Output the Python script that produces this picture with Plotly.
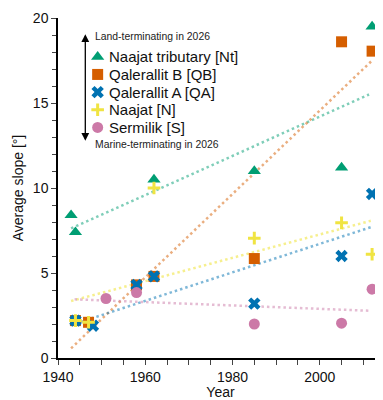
import plotly.graph_objects as go

# ---- data ----
series_names = ["Naajat tributary [Nt]", "Qalerallit B [QB]", "Qalerallit A [QA]",
                "Naajat [N]", "Sermilik [S]"]

nt_year = [1943, 1944, 1962, 1985, 2005, 2012]
nt_slope = [8.4, 7.4, 10.5, 11.0, 11.2, 19.5]

qb_year = [1944, 1947, 1958, 1962, 1985, 2005, 2012]
qb_slope = [2.2, 2.1, 4.3, 4.8, 5.85, 18.6, 18.05]

qa_year = [1944, 1948, 1958, 1962, 1985, 2005, 2012]
qa_slope = [2.2, 1.9, 4.3, 4.8, 3.2, 6.0, 9.65]

n_year = [1944, 1947, 1962, 1985, 2005, 2012]
n_slope = [2.2, 2.1, 10.0, 7.05, 7.95, 6.1]

s_year = [1951, 1958, 1985, 2005, 2012]
s_slope = [3.5, 3.85, 2.0, 2.05, 4.05]

# linear trend lines (start/end year and value)
nt_trend_year = [1943, 2011.3]
nt_trend_val = [7.62, 15.5]
qb_trend_year = [1943, 2011.8]
qb_trend_val = [0.57, 17.45]
qa_trend_year = [1944, 2012]
qa_trend_val = [2.02, 7.72]
n_trend_year = [1943, 2011.7]
n_trend_val = [3.35, 8.07]
s_trend_year = [1943.8, 2011.3]
s_trend_val = [3.45, 2.78]

x_ticks = [1940, 1960, 1980, 2000]
y_ticks = [0, 5, 10, 15, 20]

# ---- styles ----
colors = ["#009E73", "#D55E00", "#0072B2", "#F0E442", "#CC79A7"]
line_colors = ["rgba(0,158,115,0.5)", "rgba(213,94,0,0.5)", "rgba(0,114,178,0.5)",
               "rgba(240,228,66,0.6)", "rgba(204,121,167,0.5)"]
symbols = ["triangle-up", "square", "x", "cross-thin", "circle"]
sizes = [11.5, 11, 11, 9, 11]
outline_w = [0, 0, 0, 3, 0]


def marker_style(i):
    return dict(symbol=symbols[i], size=sizes[i], color=colors[i],
                line=dict(width=outline_w[i], color=colors[i]))


years = [nt_year, qb_year, qa_year, n_year, s_year]
slopes = [nt_slope, qb_slope, qa_slope, n_slope, s_slope]
trend_years = [nt_trend_year, qb_trend_year, qa_trend_year, n_trend_year, s_trend_year]
trend_vals = [nt_trend_val, qb_trend_val, qa_trend_val, n_trend_val, s_trend_val]

fig = go.Figure()

for i in range(5):
    fig.add_trace(go.Scatter(
        x=trend_years[i], y=trend_vals[i], mode="lines",
        line=dict(color=line_colors[i], width=2.5, dash="2.5px,3px"),
        showlegend=False, hoverinfo="skip"))

for i in range(5):
    fig.add_trace(go.Scatter(
        x=years[i], y=slopes[i], mode="markers", name=series_names[i],
        marker=marker_style(i), showlegend=False))

# ---- hand-drawn legend (tight spacing as in the reference) ----
leg_sym_x = 0.122
leg_text_x = 0.152
leg_top = 0.886
leg_gap = 0.052
for i in range(5):
    yy = leg_top - i * leg_gap
    fig.add_trace(go.Scatter(
        x=[leg_sym_x], y=[yy], mode="markers", xaxis="x2", yaxis="y2",
        marker=marker_style(i), showlegend=False, hoverinfo="skip"))
    fig.add_annotation(x=leg_text_x, y=yy, xref="paper", yref="paper",
                       text=series_names[i], showarrow=False,
                       xanchor="left", yanchor="middle",
                       font=dict(size=15, color="#111"))

font_family = "Liberation Sans, Arial, sans-serif"

fig.update_layout(
    width=375, height=392,
    margin=dict(l=50, r=0, t=10, b=42),
    paper_bgcolor="white", plot_bgcolor="white",
    font=dict(family=font_family, size=14, color="#111"),
    showlegend=False,
    xaxis=dict(range=[1940, 2014.5], tickvals=x_ticks, ticks="outside", ticklen=5,
               tickwidth=1.3, showline=True, linecolor="black", linewidth=1.5,
               showgrid=False, zeroline=False,
               minor=dict(dtick=5, tick0=1940, ticks="outside", ticklen=5, tickwidth=1.3,
                          showgrid=False),
               title=dict(text="Year", standoff=6, font=dict(size=14))),
    yaxis=dict(range=[0, 20], tickvals=y_ticks, ticks="outside", ticklen=5,
               tickwidth=1.3, showline=True, linecolor="black", linewidth=1.5,
               showgrid=False, zeroline=False,
               minor=dict(dtick=1, tick0=0, ticks="outside", ticklen=4, tickwidth=1.3,
                          showgrid=False),
               title=dict(text="Average slope [°]", standoff=6, font=dict(size=14))),
    xaxis2=dict(range=[0, 1], overlaying="x", visible=False, fixedrange=True),
    yaxis2=dict(range=[0, 1], overlaying="y", visible=False, fixedrange=True),
)

fig.add_annotation(x=0.084, y=0.952, xref="paper", yref="paper", text="",
                   showarrow=True, ax=0, ay=108, axref="pixel", ayref="pixel",
                   arrowside="end+start", arrowhead=2, arrowsize=1.2,
                   arrowwidth=1.3, arrowcolor="black")
fig.add_annotation(x=0.107, y=0.947, xref="paper", yref="paper",
                   text="Land-terminating in 2026", showarrow=False,
                   xanchor="left", yanchor="middle",
                   font=dict(size=10.4, color="#222"))
fig.add_annotation(x=0.107, y=0.629, xref="paper", yref="paper",
                   text="Marine-terminating in 2026", showarrow=False,
                   xanchor="left", yanchor="middle",
                   font=dict(size=10.4, color="#222"))

fig.write_html("out.html")
